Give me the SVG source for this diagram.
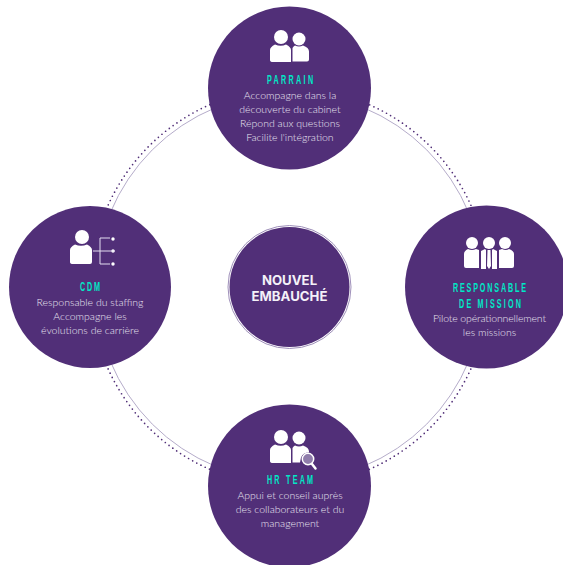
<svg xmlns="http://www.w3.org/2000/svg" width="563" height="565" viewBox="0 0 563 565">
<style>
.bg{fill:#fff}
.node{fill:#512f78}
.ring{fill:none;stroke:#b5acca;stroke-width:1}
.dots{fill:none;stroke:#512f78;stroke-width:1.7;stroke-linecap:round;stroke-dasharray:0 4.7}
.ico{fill:#fff}
.icol{fill:none;stroke:#e4def0;stroke-width:1}
text{text-anchor:middle;font-family:"Lato","Open Sans",sans-serif}
.title{font-family:"Liberation Sans",sans-serif;font-weight:700;font-size:12px;fill:#00e8c6}
.body{font-size:10.5px;font-weight:300;fill:#e8e3f0}
.main{font-family:"Inter","Liberation Sans",sans-serif;font-weight:700;font-size:13.2px;fill:#f4f1f8}
</style>
<rect class="bg" width="563" height="565"/>
<g id="connectors">
<circle class="ring" cx="289.5" cy="287" r="194"/>
<circle class="dots" cx="289.5" cy="287" r="199"/>
</g>
<g id="parrain">
<circle class="node" cx="289.5" cy="88" r="81.5"/>
<g class="ico">
<circle cx="281" cy="37" r="7"/><circle cx="299" cy="39" r="6.5"/>
<path d="M270 50q0-3 5-5.500q6 2.500 11 0q5 2.500 5 5.500v12h-18q-3 0-3-2z"/>
<path d="M292.500 48q1-2 2.500-2.500q4 2 8 0q6 2 6 6v8q0 2-2 2h-14.500z"/>
</g>
<text class="title" transform="translate(290,84) scale(.6,1)" textLength="77">PARRAIN</text>
<text class="body" x="290" y="99">Accompagne dans la</text>
<text class="body" x="290" y="113">découverte du cabinet</text>
<text class="body" x="290" y="127">Répond aux questions</text>
<text class="body" x="290" y="141">Facilite l'intégration</text>
</g>
<g id="cdm">
<circle class="node" cx="90" cy="287" r="81"/>
<g class="ico">
<circle cx="82" cy="237" r="7"/>
<path d="M70 250q0-3 5-5.500q6 2.500 12 0q5 2.500 5 5.500v12q0 2-2 2H73q-3 0-3-2z"/>
<circle cx="113" cy="239" r="1.700"/><circle cx="113" cy="251" r="1.700"/><circle cx="113" cy="264" r="1.700"/>
</g>
<path class="icol" d="M93 251h22M110 238h-10v26h10"/>
<text class="title" transform="translate(90,291) scale(.6,1)" textLength="33">CDM</text>
<text class="body" x="90" y="306">Responsable du staffing</text>
<text class="body" x="90" y="320">Accompagne les</text>
<text class="body" x="90" y="334">évolutions de carrière</text>
</g>
<g id="responsable">
<circle class="node" cx="486.500" cy="287" r="81.500"/>
<g class="ico">
<circle cx="472" cy="243" r="6"/><circle cx="489" cy="243" r="6"/><circle cx="505" cy="243" r="6"/>
<path d="M464 254q0-3 4-5q4 2 8 0l3 1v18h-13q-2 0-2-2z"/>
<path d="M481 251l4-2 1 1v19h-5zM492 250l1-1 4 2v18h-5z"/>
<path d="M487.500 250h3l.500 16-2 3-2-3z"/>
<path d="M499 250l3-1q4 2 7 0q5 2 5 5v12q0 2-2 2h-13z"/>
</g>
<text class="title" transform="translate(489.500,292) scale(.6,1)" textLength="122">RESPONSABLE</text>
<text class="title" transform="translate(490,308) scale(.6,1)" textLength="103">DE MISSION</text>
<text class="body" x="489.500" y="322" textLength="113">Pilote opérationnellement</text>
<text class="body" x="489.500" y="336">les missions</text>
</g>
<g id="hr-team">
<circle class="node" cx="289.500" cy="486" r="81.500"/>
<g class="ico">
<circle cx="281" cy="437" r="7"/><circle cx="299" cy="438" r="6.500"/>
<path d="M270 450q0-3 5-5.500q6 2.500 11 0q5 2.500 5 5.500v13h-18q-3 0-3-2z"/>
<path d="M292.500 448q1-2 2.500-2.500q4 2 8 0q6 2 6 6v1q-6 0-8 5l-1 5h-7.500z"/>
</g>
<circle cx="308" cy="459" r="5.700" fill="#8f7cab" stroke="#fff" stroke-width="1.500"/>
<path d="M312 464l3.500 4.500" stroke="#fff" stroke-width="2.500" stroke-linecap="round"/>
<text class="title" transform="translate(290,484) scale(.6,1)" textLength="77">HR TEAM</text>
<text class="body" x="290" y="499">Appui et conseil auprès</text>
<text class="body" x="290" y="513">des collaborateurs et du</text>
<text class="body" x="290" y="527">management</text>
</g>
<g id="nouvel-embauche">
<circle cx="289.500" cy="287" r="61.500" fill="#fff" stroke="#9f90ba" stroke-width="1"/>
<circle class="node" cx="289.500" cy="287" r="60"/>
<text class="main" x="289.500" y="285">NOUVEL</text>
<text class="main" x="289.500" y="301">EMBAUCHÉ</text>
</g>
</svg>
